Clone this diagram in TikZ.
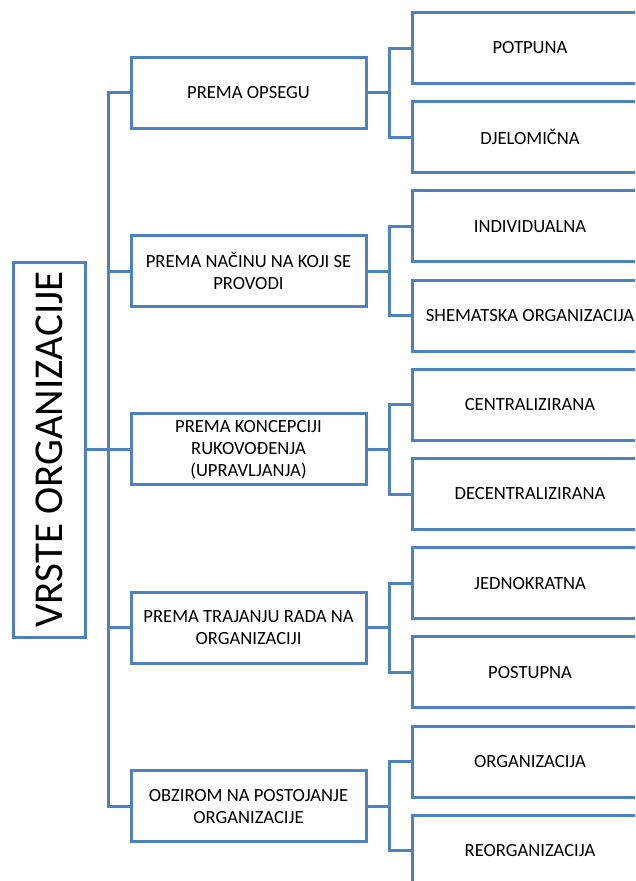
\documentclass[tikz,border=0pt]{standalone}
\usepackage{fontspec}
\setmainfont{Carlito}
\definecolor{lineblue}{RGB}{79,129,189}
\tikzset{
  box/.style={draw=lineblue, line width=3pt, fill=white, align=center, text=black,
    font=\fontsize{18.6}{22}\selectfont, inner sep=2pt},
  midbox/.style={box, minimum width=235pt, minimum height=71pt},
  leafbox/.style={box, minimum width=236pt, minimum height=71pt},
  rootbox/.style={box, minimum width=375pt, minimum height=72pt, rotate=90,
    font=\fontsize{41}{48}\selectfont},
  conn/.style={draw=lineblue, line width=3pt}
}
\begin{document}
\begin{tikzpicture}[x=1pt,y=-1pt]
\useasboundingbox (0,0) rectangle (635,881);
\clip (0,0) rectangle (635,881);
\fill[white] (0,0) rectangle (635,881);
% root
\node[rootbox] (root) at (49,449.5) {VRSTE ORGANIZACIJE};
% middle boxes
\node[midbox] (m1) at (248.5,92.6) {PREMA OPSEGU};
\node[midbox] (m2) at (248.5,271) {PREMA NAČINU NA KOJI SE\\PROVODI};
\node[midbox] (m3) at (248.5,449.4) {PREMA KONCEPCIJI\\RUKOVOĐENJA\\(UPRAVLJANJA)};
\node[midbox] (m4) at (248.5,627.8) {PREMA TRAJANJU RADA NA\\ORGANIZACIJI};
\node[midbox] (m5) at (248.5,806.2) {OBZIROM NA POSTOJANJE\\ORGANIZACIJE};
% leaves
\node[leafbox] (l1) at (530,48) {POTPUNA};
\node[leafbox] (l2) at (530,137.2) {DJELOMIČNA};
\node[leafbox] (l3) at (530,226.4) {INDIVIDUALNA};
\node[leafbox] (l4) at (530,315.6) {SHEMATSKA ORGANIZACIJA};
\node[leafbox] (l5) at (530,404.8) {CENTRALIZIRANA};
\node[leafbox] (l6) at (530,494) {DECENTRALIZIRANA};
\node[leafbox] (l7) at (530,583.2) {JEDNOKRATNA};
\node[leafbox] (l8) at (530,672.4) {POSTUPNA};
\node[leafbox] (l9) at (530,761.6) {ORGANIZACIJA};
\node[leafbox] (l10) at (530,850.8) {REORGANIZACIJA};
% trunk
\draw[conn] (m1.west) -- ++(-21.5,0) coordinate (trunk) |- (m5.west);
\draw[conn] (root.south) -- (root.south -| trunk);
\foreach \m in {m2,m3,m4}{\draw[conn] (\m.west) -- ++(-21.5,0);}
% brackets
\foreach \m/\a/\b in {m1/l1/l2, m2/l3/l4, m3/l5/l6, m4/l7/l8, m5/l9/l10}{
  \draw[conn] (\a.west) -- ++(-21.5,0) coordinate (br) |- (\b.west);
  \draw[conn] (\m.east) -- (\m.east -| br);
}
\end{tikzpicture}
\end{document}
